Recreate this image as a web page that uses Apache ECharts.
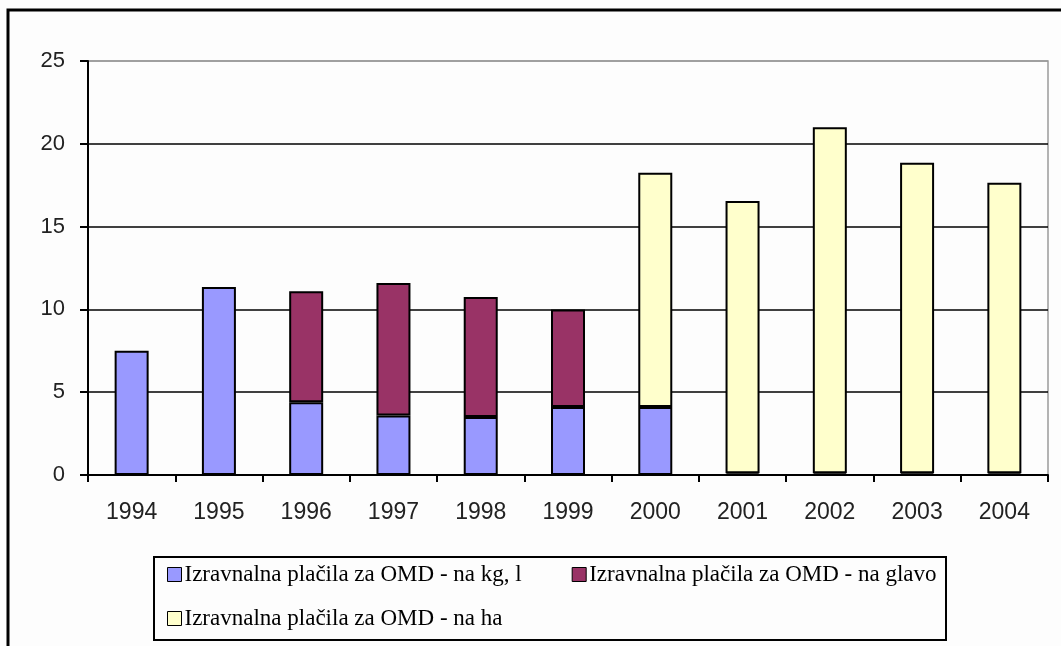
<!DOCTYPE html>
<html>
<head>
<meta charset="utf-8">
<script src="https://cdn.jsdelivr.net/npm/echarts@6/dist/echarts.min.js"></script>
<style>
html,body{margin:0;padding:0;background:#fdfdfd;}
#chart{width:1061px;height:646px;}
</style>
</head>
<body>
<div id="chart"></div>
<script>
var categories = ['1994','1995','1996','1997','1998','1999','2000','2001','2002','2003','2004'];
var seriesNames = ['Izravnalna plačila za OMD - na kg, l','Izravnalna plačila za OMD - na glavo','Izravnalna plačila za OMD - na ha'];
var perKg   = [7.5, 11.35, 4.4, 3.6, 3.5, 4.1, 4.1, 0.1, 0.1, 0.1, 0.1];
var perHead = [0, 0, 6.7, 8.0, 7.25, 5.9, 0, 0, 0, 0, 0];
var perHa   = [0, 0, 0, 0, 0, 0, 14.15, 16.45, 20.9, 18.75, 17.55];
var yTicks = [0, 5, 10, 15, 20, 25];

var colors = ['#9999FF', '#993366', '#FFFFCC'];
var chart = echarts.init(document.getElementById('chart'));

function mkSeries(i, data) {
  return {
    name: seriesNames[i],
    type: 'bar',
    stack: 'total',
    barWidth: 34,
    data: data.map(function(v){ return v === 0 ? null : v; }),
    itemStyle: { color: colors[i], borderColor: '#000', borderWidth: 2 },
    emphasis: { disabled: true }
  };
}

var legendText = { fontFamily: 'Liberation Serif, Times New Roman, serif', fontSize: 23, color: '#000', padding: [0, 0, 0, -2] };

chart.setOption({
  backgroundColor: '#fdfdfd',
  animation: false,
  color: colors,
  grid: { left: 88, right: 13, top: 61, bottom: 171, show: true, borderColor: '#9a9a9a', borderWidth: 1.5, containLabel: false },
  xAxis: {
    type: 'category',
    data: categories,
    boundaryGap: true,
    axisLine: { lineStyle: { color: '#000', width: 2 } },
    axisTick: { show: true, length: 7, alignWithLabel: false, lineStyle: { color: '#000', width: 2 } },
    axisLabel: { color: '#222', fontFamily: 'Liberation Sans, Arial, sans-serif', fontSize: 23, margin: 26 }
  },
  yAxis: {
    type: 'value',
    min: yTicks[0],
    max: yTicks[yTicks.length - 1],
    interval: yTicks[1] - yTicks[0],
    axisLine: { show: true, lineStyle: { color: '#000', width: 2 } },
    axisTick: { show: true, length: 8, lineStyle: { color: '#000', width: 2 } },
    axisLabel: { color: '#222', fontFamily: 'Liberation Sans, Arial, sans-serif', fontSize: 22, margin: 23 },
    splitLine: { show: true, lineStyle: { color: ['#000', '#000', '#000', '#000', '#000', '#9a9a9a'], width: 1.5 } }
  },
  legend: [
    {
      data: [seriesNames[0], seriesNames[1]],
      left: 162, top: 558,
      icon: 'rect', itemWidth: 14, itemHeight: 14, itemGap: 50,
      selectedMode: false,
      itemStyle: { borderColor: '#000', borderWidth: 1 },
      textStyle: legendText
    },
    {
      data: [seriesNames[2]],
      left: 162, top: 602,
      icon: 'rect', itemWidth: 14, itemHeight: 14,
      selectedMode: false,
      itemStyle: { borderColor: '#000', borderWidth: 1 },
      textStyle: legendText
    }
  ],
  graphic: [
    { type: 'rect', shape: { x: 8, y: 10, width: 1070, height: 660 }, style: { fill: null, stroke: '#000', lineWidth: 3 }, silent: true, z: 100 },
    { type: 'rect', shape: { x: 154, y: 557, width: 792, height: 83 }, style: { fill: null, stroke: '#000', lineWidth: 2 }, silent: true, z: 100 }
  ],
  series: [ mkSeries(0, perKg), mkSeries(1, perHead), mkSeries(2, perHa) ]
});
</script>
</body>
</html>
